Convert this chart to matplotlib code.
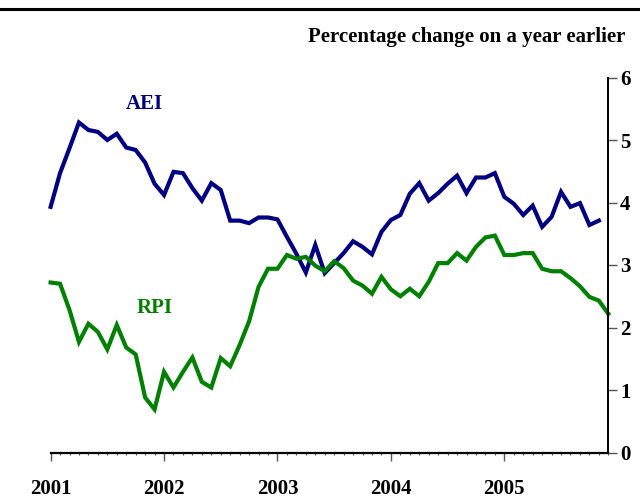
import matplotlib
matplotlib.use("Agg")
import matplotlib.pyplot as plt
from matplotlib.lines import Line2D
import numpy as np

# Monthly data, Jan 2001 onwards (percentage change on a year earlier)
aei = [3.93, 4.47, 4.87, 5.28, 5.16, 5.13, 5.00, 5.10, 4.88, 4.84, 4.64, 4.30,
       4.12, 4.49, 4.47, 4.23, 4.03, 4.31, 4.20, 3.71, 3.71, 3.67, 3.76, 3.76,
       3.73, 3.45, 3.18, 2.88, 3.32, 2.87, 3.03, 3.19, 3.38, 3.29, 3.17, 3.53,
       3.72, 3.80, 4.14, 4.31, 4.03, 4.15, 4.30, 4.43, 4.15, 4.40, 4.40, 4.47,
       4.09, 3.98, 3.80, 3.95, 3.61, 3.77, 4.17, 3.93, 3.99, 3.64, 3.71]
rpi = [2.72, 2.70, 2.28, 1.77, 2.06, 1.93, 1.65, 2.04, 1.68, 1.57, 0.88, 0.69,
       1.29, 1.04, 1.29, 1.52, 1.13, 1.04, 1.51, 1.38, 1.72, 2.10, 2.65, 2.94,
       2.94, 3.16, 3.10, 3.13, 2.99, 2.90, 3.06, 2.95, 2.75, 2.67, 2.54, 2.81,
       2.61, 2.50, 2.62, 2.50, 2.73, 3.03, 3.03, 3.19, 3.07, 3.29, 3.44, 3.47,
       3.16, 3.16, 3.19, 3.19, 2.94, 2.90, 2.90, 2.79, 2.66, 2.49, 2.43, 2.22]
years = ["2001", "2002", "2003", "2004", "2005"]
y_ticks = [0, 1, 2, 3, 4, 5, 6]
title = "Percentage change on a year earlier"

SERIF = ["Liberation Serif", "DejaVu Serif"]
NAVY = "#000080"
GREEN = "#008000"

fig = plt.figure(figsize=(6.4, 5.0), dpi=100)
ax = fig.add_axes([50.6 / 640, 1 - 452.5 / 500, (608.3 - 50.6) / 640, (452.5 - 77.5) / 500])

ax.plot(np.arange(len(aei)), aei, color=NAVY, lw=3.0, solid_joinstyle="miter", clip_on=False)
ax.plot(np.arange(len(rpi)), rpi, color=GREEN, lw=3.0, solid_joinstyle="miter", clip_on=False)

ax.set_xlim(0, 59)
ax.set_ylim(0, 6)

for s in ["top", "left"]:
    ax.spines[s].set_visible(False)
ax.spines["bottom"].set_linewidth(1.6)
ax.spines["right"].set_linewidth(1.4)

ax.yaxis.tick_right()
ax.set_yticks(y_ticks)
ax.set_yticklabels([str(v) for v in y_ticks])
ax.tick_params(axis="y", which="major", direction="out", length=6.5, width=1.0,
               color="#555555", pad=2, labelsize=15)

ax.set_xticks([12 * i for i in range(len(years))])
ax.set_xticklabels(years)
ax.set_xticks(np.arange(0, 60), minor=True)
ax.tick_params(axis="x", which="major", direction="out", length=5.8, width=1.0,
               color="#555555", pad=13, labelsize=15)
ax.tick_params(axis="x", which="minor", direction="out", length=1.5, width=0.8,
               color="#555555")

for lab in ax.get_xticklabels() + ax.get_yticklabels():
    lab.set_fontfamily(SERIF)
    lab.set_fontweight("bold")

ax.text(9.9, 5.58, "AEI", color=NAVY, fontsize=15, fontweight="bold",
        family=SERIF, ha="center", va="center")
ax.text(11.0, 2.31, "RPI", color=GREEN, fontsize=15, fontweight="bold",
        family=SERIF, ha="center", va="center")

fig.text(625 / 640, 1 - 37 / 500, title, ha="right", va="center",
         fontsize=15, fontweight="bold", family=SERIF)

fig.add_artist(Line2D([0, 1], [1 - 8.5 / 500, 1 - 8.5 / 500], color="black",
                      lw=2.2, transform=fig.transFigure))

fig.savefig("out.png", dpi=100)
